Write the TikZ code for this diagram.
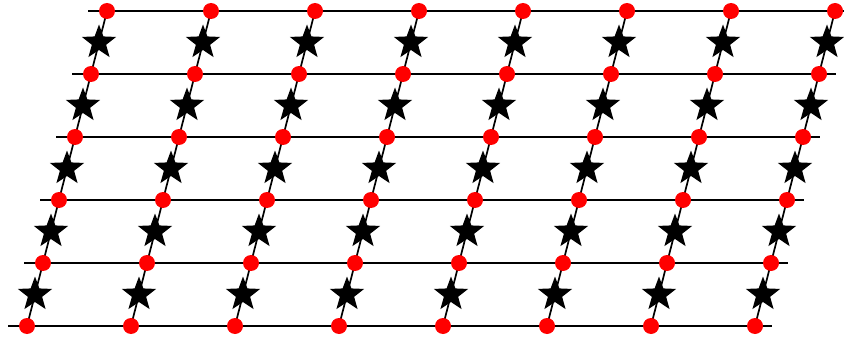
\documentclass[tikz,border=0pt]{standalone}
\usetikzlibrary{shapes.geometric,backgrounds}
\tikzset{
  site/.style={circle,fill=red,inner sep=0pt,minimum size=16pt},
  starmark/.style={star,star points=5,star point ratio=2.4,fill=black,inner sep=0pt,minimum size=36pt},
  bond/.style={line width=1.7pt}
}
\begin{document}
\begin{tikzpicture}[x=1pt,y=1pt,yscale=-1]
\useasboundingbox (0,0) rectangle (844,337);

% lattice sites
\foreach \r in {0,...,5}{
  \foreach \c in {0,...,7}{
    \node[site] (d-\r-\c) at ({27+104*\c+16*\r},{326-63*\r}) {};
  }
  \coordinate (l-\r) at ({8+16*\r},{326-63*\r});
  \coordinate (e-\r) at ({772+16*\r},{326-63*\r});
}

\begin{scope}[on background layer]
% horizontal lines
\foreach \r in {0,...,5}
  \draw[bond] (l-\r) -- (e-\r);
% slanted lines with stars
\foreach \r [evaluate=\r as \s using int(\r+1)] in {0,...,4}
  \foreach \c in {0,...,7}{
    \draw[bond] (d-\r-\c.center) -- (d-\s-\c.center)
      node[midway,starmark] (s-\r-\c) {};
  }
\end{scope}
\end{tikzpicture}
\end{document}
